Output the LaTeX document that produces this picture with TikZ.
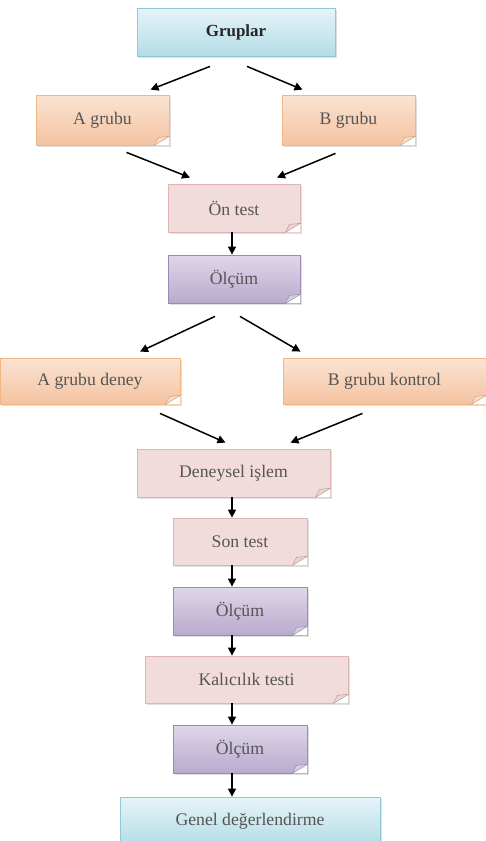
\documentclass[tikz,border=0pt]{standalone}
\usepackage{fontspec}
\setmainfont{Liberation Serif}
\usepackage{tikz}
\usetikzlibrary{positioning,arrows.meta,calc,shadows}
\definecolor{bluetop}{HTML}{E6F4F8}
\definecolor{bluebot}{HTML}{B4DCE7}
\definecolor{blueln}{HTML}{8FC9D9}
\definecolor{peachtop}{HTML}{FBE3D3}
\definecolor{peachbot}{HTML}{F4C3A0}
\definecolor{peachln}{HTML}{F2B584}
\definecolor{pinkfill}{HTML}{F2DCDB}
\definecolor{pinkln}{HTML}{DDB5B4}
\definecolor{purptop}{HTML}{DFD7EA}
\definecolor{purpbot}{HTML}{B9AACD}
\definecolor{purpln}{HTML}{9C89B6}
\definecolor{txtgray}{HTML}{555555}
\tikzset{
  box/.style={rectangle,line width=0.8pt,inner sep=0pt,text=txtgray,
    font=\fontsize{17.7}{20}\selectfont,
    drop shadow={opacity=0.25,shadow xshift=1.5pt,shadow yshift=-1.5pt}},
  bluebox/.style={box,draw=blueln,top color=bluetop,bottom color=bluebot},
  peachbox/.style={box,draw=peachln,top color=peachtop,bottom color=peachbot},
  pinkbox/.style={box,draw=pinkln,fill=pinkfill},
  purpbox/.style={box,draw=purpln,top color=purptop,bottom color=purpbot},
  arr/.style={-{Triangle[length=8pt,width=8pt]},line width=1.5pt,black},
}
\begin{document}
\begin{tikzpicture}[x=1pt,y=-1pt]
  \useasboundingbox (0,0) rectangle (486,841);
  % upper part: groups and pre-test
  \node[bluebox,minimum width=198,minimum height=48,text=black!85,
    font=\fontsize{17}{20}\selectfont\bfseries] (gr) at (236,32) {Gruplar};
  \node[peachbox,minimum width=133,minimum height=50] (ga) at (102.5,120) {A grubu};
  \node[peachbox,minimum width=133,minimum height=50] (gb) at (348.5,120) {B grubu};
  \node[pinkbox,minimum width=132,minimum height=48] (on) at (234,208) {Ön test};
  \node[purpbox,minimum width=132,minimum height=48] (ol1) at (234,279) {Ölçüm};
  % treatment branch
  \node[peachbox,minimum width=180,minimum height=46] (ad) at (90,381) {A grubu deney};
  \node[peachbox,minimum width=203,minimum height=46] (bk) at (384.5,381) {B grubu kontrol};
  \node[pinkbox,minimum width=193,minimum height=48] (de) at (233.5,473) {Deneysel işlem};
  % lower chain
  \node[pinkbox,minimum width=134,minimum height=47] (so) at (240,541.5) {Son test};
  \node[purpbox,minimum width=134,minimum height=48] (ol2) at (240,611) {Ölçüm};
  \node[pinkbox,minimum width=203,minimum height=47] (ka) at (246.5,679.5) {Kalıcılık testi};
  \node[purpbox,minimum width=134,minimum height=48] (ol3) at (240,749) {Ölçüm};
  \node[bluebox,minimum width=260,minimum height=48] (ge) at (250,821) {Genel değerlendirme};

  % folded corners, tinted like their box
  \foreach \n/\c in {ga/peachbot,gb/peachbot,on/pinkln,ol1/purpbot,ad/peachbot,
      bk/peachbot,de/pinkln,so/pinkln,ol2/purpbot,ka/pinkln,ol3/purpbot}{
    \fill[white] (\n.south east) -- ++(-15,0) -- ++(15,-9) -- cycle;
    \filldraw[\c!60,draw=\c!80!black,line width=0.4pt]
      ($(\n.south east)+(-15,0)$) -- ($(\n.south east)+(0,-9)$)
      -- ($(\n.south east)+(-11,-8)$) -- cycle;
  }

  % connectors
  \coordinate (ax) at (232,0);
  \draw[arr] ($(gr.south)+(-26,10)$) -- ($(ga.north)+(48,-5)$);
  \draw[arr] ($(gr.south)+(11,10)$) -- ($(gb.north)+(-46,-5)$);
  \draw[arr] ($(ga.south)+(24,7)$) -- ($(on.north)+(-44,-6)$);
  \draw[arr] ($(gb.south)+(-13,8)$) -- ($(on.north)+(43,-6)$);
  \draw[arr] (on.south -| ax) -- (ol1.north -| ax);
  \draw[arr] ($(ol1.south)+(-19,13)$) -- ($(ad.north)+(50,-6)$);
  \draw[arr] ($(ol1.south)+(6,13)$) -- ($(bk.north)+(-84,-6)$);
  \draw[arr] ($(ad.south)+(70,9)$) -- ($(de.north)+(-8,-6)$);
  \draw[arr] ($(bk.south)+(-22,9)$) -- ($(de.north)+(57,-6)$);
  \draw[arr] (de.south -| ax) -- (so.north -| ax);
  \draw[arr] (so.south -| ax) -- (ol2.north -| ax);
  \draw[arr] (ol2.south -| ax) -- (ka.north -| ax);
  \draw[arr] (ka.south -| ax) -- (ol3.north -| ax);
  \draw[arr] (ol3.south -| ax) -- (ge.north -| ax);
\end{tikzpicture}
\end{document}
